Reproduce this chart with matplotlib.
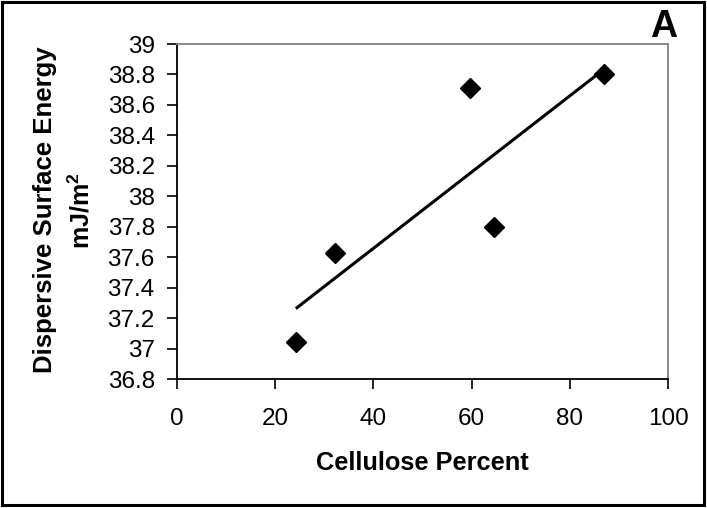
import numpy as np
import matplotlib
matplotlib.use("Agg")
import matplotlib.pyplot as plt
from matplotlib.patches import Rectangle
from matplotlib.ticker import FuncFormatter

plt.rcParams['font.family'] = ['Liberation Sans', 'DejaVu Sans']
plt.rcParams['mathtext.fontset'] = 'custom'
plt.rcParams['mathtext.bf'] = 'Liberation Sans:bold'
plt.rcParams['mathtext.rm'] = 'Liberation Sans'

cellulose = [24.2, 32.1, 59.7, 64.5, 87.0]
energy = [37.04, 37.63, 38.71, 37.80, 38.80]
x_ticks = [0, 20, 40, 60, 80, 100]
y_ticks = [36.8, 37.0, 37.2, 37.4, 37.6, 37.8, 38.0, 38.2, 38.4, 38.6, 38.8, 39.0]

W, H = 707, 508
fig = plt.figure(figsize=(W / 100, H / 100), dpi=100)
ax = fig.add_axes([177 / W, 1 - 379 / H, (668 - 177) / W, (379 - 44) / H])

ax.plot(cellulose, energy, linestyle='none', marker='D', markersize=10,
        color='black', zorder=3)
coef = np.polyfit(cellulose, energy, 1)
xs = np.array([min(cellulose), max(cellulose)])
ax.plot(xs, np.polyval(coef, xs), color='black', lw=2.2, solid_capstyle='butt')

ax.set_xlim(0, 100)
ax.set_ylim(36.8, 39.0)
ax.set_xticks(x_ticks)
ax.set_yticks(y_ticks)
ax.yaxis.set_major_formatter(FuncFormatter(lambda v, p: f"{v:g}"))
ax.tick_params(direction='out', length=7, width=1.2, labelsize=17.5, color='black')
ax.tick_params(axis='y', pad=9)
ax.tick_params(axis='x', pad=14)
for s in ['left', 'bottom']:
    ax.spines[s].set_color('black')
    ax.spines[s].set_linewidth(1.3)
for s in ['top', 'right']:
    ax.spines[s].set_color('#808080')
    ax.spines[s].set_linewidth(1.3)

fig.text(422 / W, 1 - 463 / H, 'Cellulose Percent', ha='center', va='center',
         fontsize=18.3, fontweight='bold')
fig.text(45 / W, 1 - 210 / H, 'Dispersive Surface Energy', ha='center', va='center',
         rotation=90, fontsize=18.5, fontweight='bold')
fig.text(81 / W, 1 - 211 / H, r'mJ/m$^{\mathbf{2}}$', ha='center', va='center',
         rotation=90, fontsize=18, fontweight='bold')
fig.text(664 / W, 1 - 27 / H, 'A', ha='center', va='center',
         fontsize=27, fontweight='bold')

fig.patches.append(Rectangle((2 / W, 3 / H), (704 - 2) / W, (506 - 3) / H,
                             transform=fig.transFigure, fill=False,
                             edgecolor='black', linewidth=2.2))

fig.savefig('out.png', dpi=100)
